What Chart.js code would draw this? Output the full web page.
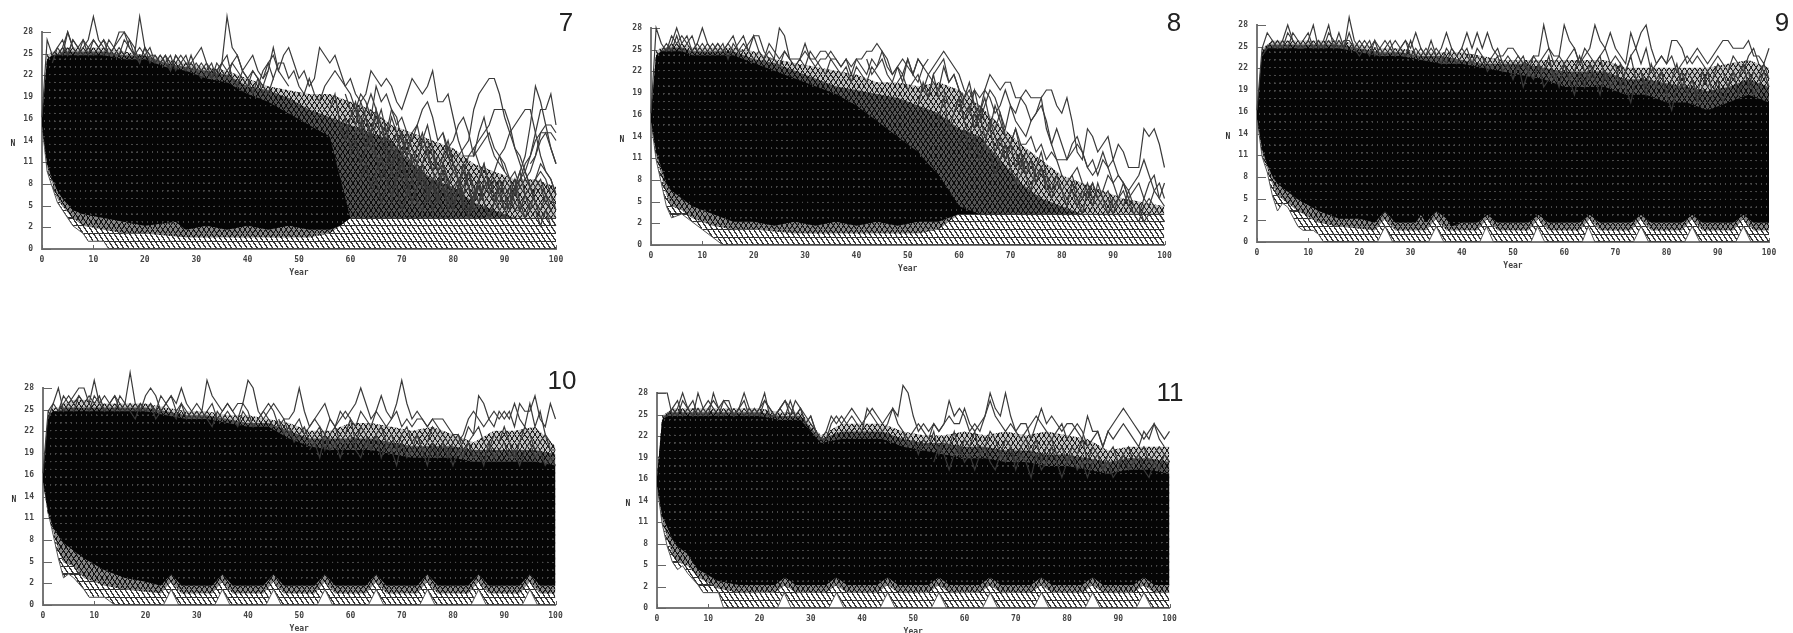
<!DOCTYPE html>
<html>
<head>
<meta charset="utf-8">
<title>N by year, scenarios 7 to 11</title>
<script src="https://cdn.jsdelivr.net/npm/chart.js@4"></script>
<style>
    html, body { margin: 0; background: #fff; }
    body { position: relative; width: 1793px; height: 633px; overflow: hidden; }
    canvas { position: absolute; filter: blur(0.6px); }
    .num { position: absolute; transform: translate(-50%, -50%); font: 26px "Liberation Sans", sans-serif; color: #222; }
</style>
</head>
<body>
<script>
// tick labels are the truncated values of 2.8 steps, as in the original plots
const xTicks = [0, 10, 20, 30, 40, 50, 60, 70, 80, 90, 100];
const yTicks = [0, 2.8, 5.6, 8.4, 11.2, 14, 16.8, 19.6, 22.4, 25.2, 28];
const yTickLabels = ['0', '2', '5', '8', '11', '14', '16', '19', '22', '25', '28'];

// years at which the upper edges of the black mass were read
const edgeYears = [0, 1, 2, 3, 4, 6, 8, 12, 16, 20, 24, 28, 32, 36, 40, 44, 48, 52, 56, 60, 64, 68, 72, 76, 80, 84, 88, 92, 96, 100];

const p7CoreTop = [17, 24.5, 25, 25, 25, 25, 25, 25, 24.5, 24.5, 23.5, 23, 22, 21.5, 20, 19, 17.5, 16, 14.5, 4, 4, 4, 4, 4, 4, 4, 4, 4, 4, 4];
const p7MidTop = [17, 24.5, 25, 25, 25.5, 25.5, 25.5, 25.5, 25, 25, 24, 23.5, 23, 22.5, 21, 20.5, 19.5, 18, 17, 16, 15, 14, 11, 9, 8, 6, 5, 4, 4, 4];
const p7HaloTop = [17, 25, 25.5, 25.5, 26, 26, 26, 26, 25.5, 25, 24.5, 24, 23.5, 23, 22, 21, 20.5, 20, 20, 19, 18, 16, 15, 14, 13, 11, 10, 9, 9, 8];
const p7CoreBottom = [[0, 16], [1, 11], [2, 9], [3, 7.5], [4, 6.5], [6, 5], [8, 4.5], [12, 4], [16, 3.5], [20, 3], [26, 3.5], [28, 2.5], [32, 3], [36, 2.5], [40, 3], [44, 2.5], [48, 3], [52, 2.5], [56, 2.5], [58, 3], [60, 4], [100, 4]];
const p7ShadeBottom = [[0, 16], [1, 10.5], [2, 8.5], [3, 6.5], [4, 5.5], [6, 4], [8, 3], [12, 2.5], [16, 2], [20, 2], [28, 1.5], [36, 1.5], [44, 1.5], [52, 1.5], [56, 2], [60, 4], [100, 4]];
const p7Outer = [[0, 16], [1, 10], [2, 8], [3, 6], [4, 5], [6, 3], [8, 2], [9, 1], [12, 1], [13, 0], [100, 0]];

const p8CoreTop = [17, 24.5, 25, 25, 25, 25, 24.5, 24.5, 24.5, 23.5, 22.5, 21.5, 20.5, 19.5, 18, 16, 14, 12, 9, 5, 4, 4, 4, 4, 4, 4, 4, 4, 4, 4];
const p8MidTop = [17, 24.5, 25, 25.5, 25.5, 25.5, 25, 25, 25, 24, 23.5, 22.5, 21.5, 20.5, 20, 19.5, 19, 18, 17, 15, 14, 11, 8, 6, 5, 4, 4, 4, 4, 4];
const p8HaloTop = [17, 25, 25.5, 25.5, 26, 26, 25.5, 25.5, 25.5, 25, 24, 23.5, 23, 22.5, 22, 21, 21, 20.5, 21, 20, 18, 15.5, 13, 11, 9, 8, 7, 6, 5.5, 5];
const p8CoreBottom = [[0, 16], [1, 12], [2, 10], [3, 8], [4, 7], [6, 6], [8, 5], [12, 4], [16, 3], [20, 3], [24, 2.5], [28, 3], [32, 2.5], [36, 3], [40, 2.5], [44, 3], [48, 2.5], [52, 3], [56, 3], [60, 4], [100, 4]];
const p8ShadeBottom = [[0, 16], [1, 11.5], [2, 9], [3, 6.5], [4, 5], [6, 4.5], [8, 3.5], [12, 2.5], [16, 2], [20, 2], [28, 1.5], [36, 1.5], [44, 1.5], [52, 1.5], [56, 2], [60, 4], [100, 4]];
const p8Outer = [[0, 16], [1, 11], [2, 8], [3, 5], [4, 3.5], [6, 4], [8, 3], [10, 2], [12, 1], [14, 0], [100, 0]];

const p9CoreTop = [17, 24.5, 25, 25, 25, 25, 25, 25, 25, 24.5, 24, 24, 23.5, 23, 23, 22.5, 22, 21.5, 21, 20, 20, 20, 19, 19, 18, 18, 17, 18, 19, 18];
const p9MidTop = [17, 24.5, 25.5, 25.5, 25.5, 25.5, 25.5, 25.5, 25.5, 25, 24.5, 24.5, 24, 24, 23.5, 23, 23, 23, 22.5, 22, 22, 22, 21, 21, 20.5, 20, 19.5, 20, 21, 20];
const p9HaloTop = [17, 25, 25.5, 26, 26, 26, 26, 26, 26, 25.5, 25, 25, 24.5, 24.5, 24.5, 24, 23.5, 23.5, 23.5, 23.5, 23.5, 23.5, 22.5, 22.5, 22.5, 22.5, 22.5, 23, 23.5, 22.5];
const p9CoreBottom = [[0, 16], [1, 12], [2, 10], [3, 8.5], [4, 7.5], [6, 6.5], [8, 5.5], [12, 4], [16, 3], [20, 3], [23, 2.5], [25, 4], [27, 2.5], [31, 2.5], [32, 3.5], [33, 2.5], [35, 4], [37, 3], [38, 2], [40, 2.5], [43, 2.5], [45, 3.5], [47, 2.5], [53, 2.5], [55, 3.5], [57, 2.5], [63, 2.5], [65, 3.5], [67, 2.5], [73, 2.5], [75, 3.5], [77, 2.5], [83, 2.5], [85, 3.5], [87, 2.5], [93, 2.5], [95, 3.5], [97, 2.5], [100, 2.5]];
const p9ShadeBottom = [[0, 16], [1, 11.5], [2, 9.5], [3, 7.5], [4, 6], [6, 5], [8, 4], [12, 2.5], [16, 2], [23, 1.5], [25, 3], [27, 1.5], [33, 1.5], [35, 3], [37, 1.5], [43, 1.5], [45, 3], [47, 1.5], [53, 1.5], [55, 3], [57, 1.5], [63, 1.5], [65, 3], [67, 1.5], [73, 1.5], [75, 3], [77, 1.5], [83, 1.5], [85, 3], [87, 1.5], [93, 1.5], [95, 3], [97, 1.5], [100, 1.5]];
const p9Outer = [[0, 16], [1, 11], [2, 9], [3, 6], [4, 4], [5, 5], [6, 4.5], [8, 2], [9, 1.5], [11, 1.5], [12, 1], [13, 0], [23.5, 0], [25, 2], [26.5, 0], [33.5, 0], [35, 2], [36.5, 0], [43.5, 0], [44.8, 2], [46.2, 0], [53.5, 0], [54.8, 2], [56.2, 0], [63.5, 0], [64.7, 2], [66, 0], [73.5, 0], [75, 2], [76.5, 0], [83.5, 0], [85, 2], [86.5, 0], [93.5, 0], [95, 2], [96.5, 0], [100, 0]];

const p10CoreTop = [17, 24.5, 25, 25, 25, 25, 25, 25, 25, 25, 24.5, 24, 24, 23.5, 23, 23, 21.5, 20.5, 20, 20, 20, 19.5, 19, 19, 19, 18.5, 18.5, 18.5, 18.5, 18];
const p10MidTop = [17, 24.5, 25, 25, 25.5, 25.5, 25.5, 25.5, 25.5, 25.5, 25, 24.5, 24.5, 24, 23.5, 23.5, 22.5, 21.5, 21.5, 21.5, 21.5, 21, 20.5, 20.5, 20.5, 20, 20, 20, 20, 19.5];
const p10HaloTop = [17, 25, 25.5, 25.5, 26, 26.5, 26.5, 26, 26, 26, 25.5, 25, 25, 24.5, 24.5, 24, 23.5, 22.5, 22.5, 23.5, 23.5, 23, 22.5, 23, 22, 21, 22.5, 22.5, 23, 20.5];
const p10CoreBottom = [[0, 16], [1, 12], [2, 10], [3, 9], [4, 8], [6, 7], [8, 6], [12, 4.5], [16, 3.5], [20, 3], [23, 2.5], [25, 4], [27, 2.5], [33, 2.5], [35, 4], [37, 2.5], [43, 2.5], [45, 4], [47, 2.5], [53, 2.5], [55, 4], [57, 2.5], [63, 2.5], [65, 4], [67, 2.5], [73, 2.5], [75, 4], [77, 2.5], [83, 2.5], [85, 4], [87, 2.5], [93, 2.5], [95, 4], [97, 2.5], [100, 2.5]];
const p10ShadeBottom = [[0, 16], [1, 11.5], [2, 9.5], [3, 7], [4, 5.5], [6, 5], [8, 3.5], [12, 2.5], [16, 2], [23, 1.5], [25, 3], [27, 1.5], [33, 1.5], [35, 3], [37, 1.5], [43, 1.5], [45, 3], [47, 1.5], [53, 1.5], [55, 3], [57, 1.5], [63, 1.5], [65, 3], [67, 1.5], [73, 1.5], [75, 3], [77, 1.5], [83, 1.5], [85, 3], [87, 1.5], [93, 1.5], [95, 3], [97, 1.5], [100, 1.5]];
const p10Outer = [[0, 16], [1, 12], [2, 9], [3, 6], [4, 3.5], [5, 4], [6, 3.5], [8, 2], [9, 1], [12, 1], [13, 0.5], [14, 0], [23.5, 0], [25, 2], [26.5, 0], [33.5, 0], [35, 2], [36.5, 0], [43.5, 0], [45, 2], [46.5, 0], [53.5, 0], [55, 2], [56.5, 0], [63.5, 0], [65, 2], [66.5, 0], [73.5, 0], [75, 2], [76.5, 0], [83.5, 0], [85, 2], [86.5, 0], [93.5, 0], [95, 2], [96.5, 0], [100, 0]];

const p11CoreTop = [17, 24.5, 25, 25, 25, 25, 25, 25, 25, 25, 24.5, 24.5, 21.5, 22, 22, 22, 21, 20.5, 20, 19.5, 19.5, 19, 19, 18.5, 18.5, 18, 17.5, 18, 18, 17.5];
const p11MidTop = [17, 24.5, 25.5, 25.5, 25.5, 25.5, 25.5, 25.5, 25.5, 25.5, 25, 25, 22, 23, 23, 23, 22, 21.5, 21.5, 21, 21, 20.5, 20.5, 20, 20, 19.5, 19, 19.5, 19.5, 19];
const p11HaloTop = [17, 25, 25.5, 26, 26, 26, 26, 26, 26, 26, 25.5, 25.5, 22.5, 24, 24, 24, 23, 22.5, 22.5, 23, 22.5, 23, 22.5, 23, 22.5, 22, 20.5, 21, 21, 21];
const p11CoreBottom = [[0, 16], [1, 12], [2, 10.5], [3, 9], [4, 8], [6, 7], [8, 5], [12, 3.5], [16, 3], [20, 3], [23, 3], [25, 4], [27, 3], [33, 3], [35, 4], [37, 3], [43, 3], [45, 4], [47, 3], [53, 3], [55, 4], [57, 3], [63, 3], [65, 4], [67, 3], [73, 3], [75, 4], [77, 3], [83, 3], [85, 4], [87, 3], [93, 3], [95, 4], [97, 3], [100, 3]];
const p11ShadeBottom = [[0, 16], [1, 11.5], [2, 9], [3, 7], [4, 6], [6, 5.5], [8, 4], [12, 2.5], [16, 2], [23, 2], [25, 3], [27, 2], [33, 2], [35, 3], [37, 2], [43, 2], [45, 3], [47, 2], [53, 2], [55, 3], [57, 2], [63, 2], [65, 3], [67, 2], [73, 2], [75, 3], [77, 2], [83, 2], [85, 3], [87, 2], [93, 2], [95, 3], [97, 2], [100, 2]];
const p11Outer = [[0, 16], [1, 11], [2, 8], [3, 6], [4, 5], [5, 5.5], [6, 4.5], [8, 3], [9, 2], [12, 2], [13, 0], [23.5, 0], [24.8, 2], [26.2, 0], [33.5, 0], [35, 2], [36.5, 0], [43.5, 0], [45, 2], [46.5, 0], [53.5, 0], [55, 2], [56.5, 0], [63.5, 0], [65, 2], [66.5, 0], [73.5, 0], [75, 2], [76.5, 0], [83.5, 0], [85, 2], [86.5, 0], [93.5, 0], [95, 2], [96.5, 0], [100, 0]];

// single runs that stand out: first number is the start year, then N for each year
const p7Runs = [
    [0, 17, 27, 25, 26, 25, 28, 26, 25, 26, 27, 30, 27, 26, 25, 26, 27, 28, 27, 25, 30, 26, 25, 25, 24, 25, 24, 24, 25, 24, 24, 25, 26, 24, 23, 23, 24, 30, 26, 25, 23, 24, 25, 23, 22, 23],
    [3, 25, 26, 28, 26, 25, 27, 26, 25, 26, 27, 25, 26, 28, 28, 26, 25, 24, 26, 25, 24, 25, 24, 23, 25, 24, 23, 24, 23, 24, 23, 22, 23, 24, 23, 24, 25, 23, 22, 23, 22, 21, 23, 26, 23, 22, 21],
    [2, 24, 26, 27, 25, 27, 26, 27, 25, 27, 26, 25, 27, 26, 25, 27, 26, 25, 26, 25, 26, 24, 25, 24, 25, 23, 24, 25, 23, 24, 23, 24, 22, 24, 23, 22, 24, 23, 22, 21, 23, 22, 21, 20, 22],
    [4, 26, 25, 27, 26, 25, 26, 27, 26, 27, 26, 25, 26, 25, 27, 26, 24, 26, 24, 25, 24, 25, 23, 25, 24, 23, 25, 23, 22, 23, 24, 22, 24, 25, 22, 21, 23, 22, 20, 22, 20],
    [43, 22, 24, 25, 23, 25, 26, 24, 22, 23, 21, 22, 26, 25, 24, 25, 23, 21, 20, 18, 17, 15, 13, 12, 11],
    [42, 21, 23, 24, 22, 24, 24, 22, 23, 21, 20, 22, 20, 19, 21, 22, 23, 22, 21, 22, 20, 19, 20, 23, 22, 21, 22, 21, 19, 18, 20, 22, 21, 20, 21, 23, 19, 19, 20, 17, 14, 12, 12, 12, 15, 17, 14, 12, 11, 10],
    [79, 12, 12, 12, 13, 14, 18, 20, 21, 22, 22, 20, 17, 15, 13, 12, 10, 8, 9, 8, 7, 6, 6],
    [84, 13, 14, 15, 16, 18, 18, 18, 16, 13, 11, 9, 8, 9, 11, 10, 9, 7],
    [89, 12, 13, 15, 16, 17, 18, 18, 15, 12, 10, 9, 7],
    [92, 8, 10, 12, 16, 21, 19, 16, 13, 11],
    [94, 10, 12, 15, 18, 18, 20, 16],
    [92, 7, 9, 11, 12, 14, 15, 15, 15, 14],
    [94, 9, 10, 12, 15, 16, 16, 15],
    [95, 11, 12, 14, 15, 13, 11],
    [78, 15, 13, 14, 16, 17, 15, 12, 13, 14, 15, 13, 12, 10, 9, 10, 8, 7, 8, 9, 10, 9, 7, 5],
    [60, 17, 18, 20, 19, 17, 21, 19, 20, 18, 16, 17, 15, 14, 16, 18, 19, 17, 14, 15, 12, 10, 11, 10, 12, 13, 11, 9, 8, 10, 12, 11, 9, 7, 8, 9, 8, 6, 5],
    [56, 18, 20, 16, 14, 17, 19, 16, 18, 20, 18, 16, 15, 18, 17, 14, 12, 15, 16, 13, 14, 12, 10, 11, 13, 11, 9, 8, 10, 7, 6, 8, 9, 7, 6, 8, 7, 5, 5, 4],
    [58, 15, 17, 13, 15, 16, 13, 15, 17, 16, 13, 11, 13, 15, 12, 11, 9, 11, 13, 10, 12, 11, 8, 10, 9, 7, 8, 6, 9, 11, 8, 6, 7, 9, 8, 6, 5, 7, 8, 9, 8, 6, 5],
    [60, 12, 14, 11, 13, 15, 12, 9, 11, 13, 12, 9, 7, 9, 11, 9, 7, 9, 10, 8, 6, 8, 9, 7, 5, 7, 8, 6, 7, 9, 7, 5, 6, 8, 9, 10, 8, 6, 5, 7, 6],
    [62, 9, 11, 8, 10, 12, 9, 7, 9, 11, 8, 6, 8, 10, 7, 8, 6, 8, 7, 5, 8, 10, 8, 5, 6, 7, 9, 7, 5, 6, 8, 6, 5, 7, 8, 6, 4, 5, 3],
    [64, 7, 9, 6, 8, 10, 8, 5, 7, 9, 6, 5, 7, 9, 6, 8, 5, 7, 9, 6, 4, 6, 8, 6, 4, 6, 5, 4, 6, 8, 5, 4, 6, 5, 3, 5, 4, 3],
    [66, 16, 14, 17, 15, 12, 15, 13, 11, 14, 16, 13, 10, 12, 14, 11, 9, 7, 10, 8, 6, 9, 7],
    [61, 18, 15, 17, 14, 16, 18, 15, 13, 15, 12, 14, 11, 13, 15, 12, 10, 8, 11, 9, 6, 8, 5],
    [59, 20, 18, 16, 19, 17, 15, 18, 14, 12, 10, 13, 11, 9, 12, 10, 8, 6, 9, 7, 5],
    [68, 6, 10, 12, 9, 6, 8, 11, 8, 5, 7, 10, 7, 5, 8, 6, 4, 7, 9, 6, 4, 6, 8, 5, 7, 9, 6, 4],
    [80, 5, 8, 11, 8, 6, 9, 11, 8, 6, 9, 7, 5, 8, 10, 7, 5, 8, 9, 7, 5, 4]
];
const p8Runs = [
    [0, 17, 28, 26, 25, 26, 28, 26, 27, 25, 26, 28, 26, 25, 26, 25, 26, 27, 25, 25, 26, 27, 27, 25, 24, 24, 28, 27, 24, 24, 24, 26, 24, 24, 25, 25, 24, 24, 23, 24, 22, 24, 24, 25, 25, 26, 25, 23, 22, 23, 21, 24, 22, 24, 23, 24],
    [3, 25, 27, 26, 27, 26, 25, 26, 25, 26, 25, 26, 25, 26, 25, 26, 27, 25, 27, 25, 24, 26, 25, 24, 25, 24, 23, 24, 25, 24, 23, 24, 24, 25, 24, 23, 24, 23, 24, 23, 22, 24, 23, 24, 22, 21, 23, 24, 23, 22, 24, 23],
    [2, 25, 26, 25, 27, 25, 26, 27, 25, 26, 25, 26, 25, 26, 24, 26, 25, 26, 25, 24, 25, 24, 25, 24, 23, 25, 24, 23, 24, 23, 25, 24, 23, 22, 24, 23, 22, 23, 21, 23, 22, 21, 23, 22, 21],
    [53, 20, 22, 23, 24, 25, 24, 23, 22, 20, 19, 20, 19, 20, 22, 21, 20, 21, 21, 19, 19, 20, 19, 19, 19, 20, 20, 18, 17, 19, 16, 12, 11, 15, 14, 12, 13, 14, 11, 13, 12, 10, 10, 10, 15, 14, 15, 13, 10],
    [52, 18, 21, 19, 22, 23, 24, 21, 22, 20, 18, 17, 20, 17, 20, 19, 17, 18, 20, 18, 17, 19, 18, 16, 17, 19, 15, 13, 15, 13, 11, 12, 13, 12, 10, 9, 10, 12, 10, 11, 9, 8, 7, 8, 9, 11, 9, 7, 6, 8],
    [60, 17, 19, 21, 18, 16, 18, 20, 19, 17, 15, 18, 16, 15, 14, 16, 17, 18, 16, 13, 11, 11, 11, 13, 14, 12, 10, 11, 9, 11, 10, 8, 9, 8, 6, 7, 8, 6, 5, 7, 8, 6, 5],
    [64, 18, 16, 15, 18, 16, 14, 13, 15, 13, 13, 14, 12, 13, 11, 12, 11, 9, 8, 9, 10, 8, 7, 8, 6, 7, 9, 8, 6, 5, 7, 5, 4, 6, 8, 9, 6, 5],
    [56, 16, 19, 15, 17, 19, 16, 14, 17, 15, 13, 16, 14, 12, 11, 13, 12, 10, 12, 11, 9, 10, 8, 9, 8, 7, 8, 9, 7, 6, 8, 6, 5, 6, 7, 5, 6, 8, 6, 4, 5, 3, 4, 5, 4, 3],
    [60, 13, 15, 12, 14, 11, 13, 12, 9, 11, 13, 10, 8, 9, 11, 9, 8, 10, 8, 6, 8, 7, 6, 7, 5, 7, 6, 8, 6, 5, 6, 4, 6, 7, 5, 4, 3, 5, 6, 5, 4, 3],
    [42, 24, 22, 23, 25, 24, 22, 23, 22, 24, 22, 21, 23, 22, 21, 20, 23, 21, 22, 20, 19, 20, 18, 17, 19, 16, 15, 17, 14, 13, 15, 12],
    [48, 21, 22, 20, 21, 22, 20, 19, 22, 19, 20, 18, 17, 19, 16, 18, 15, 17, 14, 15, 12, 14, 11, 13, 10, 12, 9, 11, 8, 10, 7],
    [66, 12, 9, 11, 13, 10, 8, 11, 9, 7, 10, 12, 9, 7, 9, 7, 5, 8, 6, 4, 7, 5, 8, 6, 4, 6, 5]
];
const p9Runs = [
    [0, 17, 25, 27, 26, 25, 26, 28, 26, 25, 25, 26, 28, 25, 26, 28, 25, 27, 25, 29, 26, 25, 26, 25, 26, 25, 26, 25, 26, 25, 26, 25, 27, 25, 24, 26, 24, 25, 27, 25, 24, 25, 27, 25, 27, 25, 27, 25, 24, 24, 25, 25, 24, 23, 23, 24, 24, 28, 25, 24, 24, 28, 26, 25, 23, 24, 25, 28, 26, 25, 27, 25, 24, 23, 27, 25, 27, 28, 25, 23, 24, 23, 26, 26, 25, 23, 24, 25, 24, 23, 24, 25, 26, 26, 25, 25, 25, 26, 24, 24, 23, 25],
    [1, 24, 25, 26, 25, 26, 25, 27, 26, 25, 26, 25, 26, 25, 26, 25, 26, 25, 27, 25, 24, 25, 26, 24, 25, 24, 25, 24, 25, 26, 24, 25, 24, 25, 24, 25, 24, 23, 25, 24, 25, 24, 23, 25, 24, 23, 24, 25, 23, 24, 23, 24, 23, 22, 24, 23, 24, 25, 23, 24, 23, 24, 25, 23, 25, 24, 23, 24, 25, 23, 24, 23, 22, 24, 25, 23, 25, 22, 23, 24, 23, 24, 22, 23, 24, 23, 24, 23, 22, 23, 24, 23, 22, 24, 23, 22, 24, 25, 23, 22],
    [3, 25, 26, 25, 27, 26, 25, 26, 27, 25, 26, 25, 27, 26, 25, 26, 26, 25, 26, 25, 24, 26, 24, 25, 26, 24, 25, 24, 26, 24, 25, 24, 25, 24, 23, 25, 24, 23, 24, 25, 23, 24, 23],
    [44, 24, 22, 23, 24, 22, 23, 21, 23, 24, 22, 21, 23, 22, 24, 21, 22, 23, 21, 22, 24, 22, 21, 23, 24, 21, 22, 23, 20, 22, 24, 21, 22, 20, 23, 21, 22, 19, 21, 23, 20, 22, 21, 19, 22, 20, 21, 23, 22, 20, 22, 21, 23, 20, 22, 21, 23, 21],
    [50, 21, 23, 20, 22, 21, 23, 20, 21, 22, 20, 23, 21, 19, 22, 20, 23, 21, 19, 22, 20, 21, 23, 20, 18, 21, 22, 19, 21, 20, 22, 19, 17, 20, 22, 19, 21, 18, 20, 22, 19, 21, 18, 20, 22, 19, 21, 22, 19, 20, 22, 20]
];
const p10Runs = [
    [0, 17, 25, 26, 28, 25, 26, 27, 28, 28, 26, 29, 26, 27, 26, 25, 27, 26, 30, 26, 25, 27, 28, 27, 25, 26, 27, 26, 28, 26, 25, 26, 25, 29, 27, 26, 25, 26, 25, 26, 26, 29, 28, 25, 24, 25, 26, 25, 24, 24, 25, 28, 25, 23, 24, 25, 26, 24, 23, 25, 24, 25, 26, 28, 26, 24, 25, 27, 25, 24, 26, 29, 26, 24, 25, 24, 23, 24, 24, 24, 23, 22, 22, 21, 23, 22, 27, 26, 24, 23, 25, 24, 25, 23, 26, 25, 25, 27, 24, 23, 26, 24],
    [1, 24, 26, 25, 26, 27, 26, 27, 26, 27, 26, 27, 25, 26, 27, 26, 25, 26, 25, 26, 25, 26, 25, 27, 26, 27, 25, 26, 25, 24, 25, 24, 25, 26, 24, 25, 26, 25, 24, 26, 25, 23, 24, 25, 26, 25, 23, 24, 22, 23, 24, 22, 23, 24, 23, 22, 24, 23, 24, 25, 24, 23, 25, 24, 23, 25, 24, 23, 24, 25, 23, 24, 23, 24, 24, 23, 24, 23, 22, 21, 22, 21, 22, 24, 25, 24, 23, 24, 25, 24, 25, 24, 26, 24, 23, 26, 23, 25, 22, 21],
    [3, 25, 27, 26, 25, 27, 26, 25, 27, 26, 25, 26, 27, 25, 26, 25, 24, 26, 25, 26, 24, 25, 26, 25, 24, 26, 24, 25, 24, 25, 24, 23, 25, 24, 25, 24, 23, 25, 24, 23, 24, 25, 24, 23],
    [46, 24, 22, 23, 21, 22, 23, 21, 22, 23, 20, 22, 23, 21, 22, 24, 21, 23, 22, 20, 22, 23, 21, 22, 20, 22, 23, 21, 22, 20, 21, 23, 22, 21, 19, 21, 22, 20, 21, 22, 23, 21, 20, 22, 21, 23, 21, 19, 21, 23, 22, 20, 21, 22, 20, 20],
    [52, 20, 21, 19, 22, 20, 21, 19, 21, 22, 20, 19, 21, 20, 22, 19, 21, 20, 18, 21, 19, 20, 22, 20, 18, 21, 19, 21, 20, 18, 20, 19, 21, 19, 20, 18, 21, 19, 20, 21, 19, 20, 18, 20, 21, 19, 20, 18, 19, 18]
];
const p11Runs = [
    [0, 28, 28, 28, 25, 26, 28, 26, 25, 28, 26, 25, 28, 26, 27, 27, 25, 26, 28, 26, 25, 26, 28, 25, 25, 26, 27, 25, 27, 26, 25, 24, 23, 22, 22, 24, 25, 24, 25, 26, 25, 24, 25, 26, 25, 24, 25, 26, 25, 29, 28, 25, 23, 24, 23, 24, 23, 24, 27, 25, 26, 25, 23, 24, 23, 25, 28, 26, 25, 28, 25, 23, 24, 24, 22, 24, 26, 24, 25, 24, 23, 24, 24, 23, 22, 25, 23, 23, 21, 23, 24, 25, 26, 25, 24, 23, 22, 23, 24, 23, 22, 23],
    [1, 25, 25, 26, 25, 27, 26, 25, 26, 25, 26, 27, 26, 25, 26, 25, 26, 25, 26, 25, 26, 27, 26, 25, 26, 27, 26, 25, 26, 24, 25, 23, 22, 23, 25, 24, 25, 24, 25, 24, 23, 26, 25, 24, 23, 24, 26, 24, 23, 22, 23, 24, 23, 22, 24, 23, 24, 25, 24, 24, 26, 24, 23, 24, 25, 27, 25, 24, 23, 24, 23, 22, 23, 24, 25, 24, 23, 22, 23, 24, 22, 23, 24, 23, 21, 22, 23, 21, 23, 22, 23, 24, 23, 22, 21, 23, 22, 24, 22, 21],
    [3, 26, 27, 25, 26, 27, 25, 26, 27, 26, 25, 27, 26, 25, 26, 27, 25, 26, 25, 27, 26, 25, 26, 25, 27, 25, 26, 24, 25, 23],
    [48, 23, 21, 22, 20, 22, 21, 23, 20, 22, 21, 23, 20, 22, 21, 23, 20, 21, 23, 22, 20, 22, 21, 19, 21, 22, 20, 22, 19, 21, 22, 20, 21, 19, 21, 20, 22, 19, 21, 20, 18, 20, 21, 19, 20, 21, 19, 20, 21, 19, 20, 21, 20, 19],
    [54, 19, 21, 20, 18, 20, 21, 19, 20, 18, 20, 21, 19, 18, 20, 19, 21, 18, 20, 19, 17, 20, 18, 19, 21, 19, 17, 19, 20, 18, 19, 17, 19, 20, 18, 19, 17, 18, 20, 18, 19, 20, 18, 17, 19, 18, 20, 19]
];

const panels = [
    { name: '7', x0: 42, y28: 32, width: 514, height: 217, numX: 566, numY: 22, coreTop: p7CoreTop, midTop: p7MidTop, haloTop: p7HaloTop, coreBottom: p7CoreBottom, shadeBottom: p7ShadeBottom, outer: p7Outer, runs: p7Runs },
    { name: '8', x0: 651, y28: 28, width: 513.5, height: 217, numX: 1174, numY: 22, coreTop: p8CoreTop, midTop: p8MidTop, haloTop: p8HaloTop, coreBottom: p8CoreBottom, shadeBottom: p8ShadeBottom, outer: p8Outer, runs: p8Runs },
    { name: '9', x0: 1257, y28: 25, width: 512, height: 217, numX: 1782, numY: 22, coreTop: p9CoreTop, midTop: p9MidTop, haloTop: p9HaloTop, coreBottom: p9CoreBottom, shadeBottom: p9ShadeBottom, outer: p9Outer, runs: p9Runs },
    { name: '10', x0: 42.5, y28: 388, width: 512.5, height: 217, numX: 562, numY: 380, coreTop: p10CoreTop, midTop: p10MidTop, haloTop: p10HaloTop, coreBottom: p10CoreBottom, shadeBottom: p10ShadeBottom, outer: p10Outer, runs: p10Runs },
    { name: '11', x0: 657, y28: 393, width: 512.5, height: 215, numX: 1170, numY: 392, coreTop: p11CoreTop, midTop: p11MidTop, haloTop: p11HaloTop, coreBottom: p11CoreBottom, shadeBottom: p11ShadeBottom, outer: p11Outer, runs: p11Runs }
];

// one lattice cell (1 year by 1 N) at 6x, scaled back by the align plugin
const TILE_W = 31;
const TILE_H = 46;

function makeTile(draw) {
    const tile = document.createElement('canvas');
    tile.width = TILE_W;
    tile.height = TILE_H;
    draw(tile.getContext('2d'));
    return document.createElement('canvas').getContext('2d').createPattern(tile, 'repeat');
}

function hatchTile(ctx) {
    ctx.fillStyle = '#fff';
    ctx.fillRect(0, 0, TILE_W, TILE_H);
    ctx.strokeStyle = '#333';
    ctx.lineWidth = 8;
    ctx.beginPath();
    ctx.moveTo(0, 0);
    ctx.lineTo(TILE_W, 0);
    ctx.moveTo(0, TILE_H);
    ctx.lineTo(TILE_W, TILE_H);
    ctx.moveTo(0, 0);
    ctx.lineTo(TILE_W, TILE_H);
    ctx.stroke();
}

function crossTile(background, line, width) {
    return ctx => {
        ctx.fillStyle = background;
        ctx.fillRect(0, 0, TILE_W, TILE_H);
        ctx.strokeStyle = line;
        ctx.lineWidth = width;
        ctx.beginPath();
        ctx.moveTo(0, 0);
        ctx.lineTo(TILE_W, TILE_H);
        ctx.moveTo(TILE_W, 0);
        ctx.lineTo(0, TILE_H);
        ctx.stroke();
    };
}

function coreTile(ctx) {
    ctx.fillStyle = '#050505';
    ctx.fillRect(0, 0, TILE_W, TILE_H);
    ctx.fillStyle = '#4a4a4a';
    ctx.beginPath();
    ctx.arc(TILE_W / 2, TILE_H / 2, 5, 0, Math.PI * 2);
    ctx.fill();
}

const latticePlugin = {
    id: 'lattice',
    beforeDatasetsDraw(chart) {
        const { x, y } = chart.scales;
        const left = x.getPixelForValue(0);
        const bottom = y.getPixelForValue(0);
        const cellW = x.getPixelForValue(1) - left;
        const cellH = bottom - y.getPixelForValue(1);
        const matrix = new DOMMatrix().translate(left, bottom).scale(cellW / TILE_W, cellH / TILE_H);
        chart.$patterns.forEach(pattern => pattern.setTransform(matrix));

        // inward tick marks, under the data
        const ctx = chart.ctx;
        ctx.save();
        ctx.strokeStyle = '#666';
        ctx.lineWidth = 1;
        ctx.beginPath();
        yTicks.forEach(value => {
            const py = Math.round(y.getPixelForValue(value)) + 0.5;
            ctx.moveTo(left, py);
            ctx.lineTo(left + 9, py);
        });
        xTicks.forEach(value => {
            const px = Math.round(x.getPixelForValue(value)) + 0.5;
            ctx.moveTo(px, bottom);
            ctx.lineTo(px, bottom - 4);
        });
        ctx.stroke();
        ctx.restore();
    },
    afterDraw(chart) {
        // upright N, which an axis title would rotate
        const { x, y } = chart.scales;
        const ctx = chart.ctx;
        ctx.save();
        ctx.font = 'bold 8px "DejaVu Sans Mono"';
        ctx.fillStyle = '#333';
        ctx.textAlign = 'center';
        ctx.textBaseline = 'middle';
        ctx.fillText('N', x.getPixelForValue(0) - 29, y.getPixelForValue(13.5));
        ctx.restore();
    }
};

function edgeLine(values) {
    return values.map((value, i) => ({ x: edgeYears[i], y: value }));
}

function pairLine(pairs) {
    return pairs.map(p => ({ x: p[0], y: p[1] }));
}

function runLine(run) {
    return run.slice(1).map((value, i) => ({ x: run[0] + i, y: value })).filter(point => point.x <= 100);
}

const tickFont = { family: '"DejaVu Sans Mono"', size: 8, weight: 'bold' };

panels.forEach(panel => {
    const canvas = document.createElement('canvas');
    const canvasWidth = Math.ceil(panel.width) + 42 + 22;
    const canvasHeight = panel.height + 32 + 29;
    canvas.width = canvasWidth;
    canvas.height = canvasHeight;
    canvas.style.left = (panel.x0 - 42) + 'px';
    canvas.style.top = (panel.y28 - 32) + 'px';
    document.body.appendChild(canvas);

    const label = document.createElement('div');
    label.className = 'num';
    label.textContent = panel.name;
    label.style.left = panel.numX + 'px';
    label.style.top = panel.numY + 'px';
    document.body.appendChild(label);

    const corePattern = makeTile(coreTile);
    const midPattern = makeTile(crossTile('#555', '#0a0a0a', 6));
    const haloPattern = makeTile(crossTile('#c4c4c4', '#1a1a1a', 6));
    const shadePattern = makeTile(crossTile('#888', '#111', 6));
    const hatchPattern = makeTile(hatchTile);

    const runSets = panel.runs.map(run => ({
        data: runLine(run),
        borderColor: '#3a3a3a',
        borderWidth: 1.2,
        clip: false
    }));
    // drawn last to first, so the runs sit on top
    const base = runSets.length + 5;

    new Chart(canvas, {
        type: 'line',
        data: {
            datasets: runSets.concat([
                { data: edgeLine(panel.coreTop), borderWidth: 0, backgroundColor: corePattern, fill: { target: base } },
                { data: edgeLine(panel.midTop), borderWidth: 0, backgroundColor: midPattern, fill: { target: base } },
                { data: edgeLine(panel.haloTop), borderWidth: 0, backgroundColor: haloPattern, fill: { target: base } },
                { data: pairLine(panel.shadeBottom), borderWidth: 0, backgroundColor: shadePattern, fill: { target: base } },
                { data: pairLine(panel.outer), borderWidth: 1, borderColor: '#555', backgroundColor: hatchPattern, fill: { target: base } },
                { data: pairLine(panel.coreBottom), borderWidth: 0, fill: false }
            ])
        },
        options: {
            responsive: false,
            animation: false,
            layout: { padding: { top: 32, right: canvasWidth - 42 - panel.width } },
            elements: { point: { radius: 0 }, line: { tension: 0 } },
            plugins: { legend: { display: false }, tooltip: { enabled: false } },
            scales: {
                x: {
                    type: 'linear',
                    min: 0,
                    max: 100,
                    afterBuildTicks: axis => { axis.ticks = xTicks.map(value => ({ value })); },
                    afterFit: axis => { axis.height = 29; },
                    grid: { drawOnChartArea: false, drawTicks: false },
                    border: { color: '#777', width: 2 },
                    ticks: { font: tickFont, color: '#444', padding: 6, maxRotation: 0, autoSkip: false },
                    title: { display: true, text: 'Year', font: tickFont, color: '#444', padding: 0 }
                },
                y: {
                    min: 0,
                    max: 28,
                    afterBuildTicks: axis => { axis.ticks = yTicks.map(value => ({ value })); },
                    afterFit: axis => { axis.width = 42; },
                    grid: { drawOnChartArea: false, drawTicks: false },
                    border: { color: '#777', width: 2 },
                    ticks: {
                        font: tickFont,
                        color: '#444',
                        padding: 9,
                        autoSkip: false,
                        callback: (value, index) => yTickLabels[index]
                    }
                }
            }
        },
        plugins: [{
            id: 'patterns',
            beforeInit(c) { c.$patterns = [corePattern, midPattern, haloPattern, shadePattern, hatchPattern]; }
        }, latticePlugin]
    });
});
</script>
</body>
</html>
